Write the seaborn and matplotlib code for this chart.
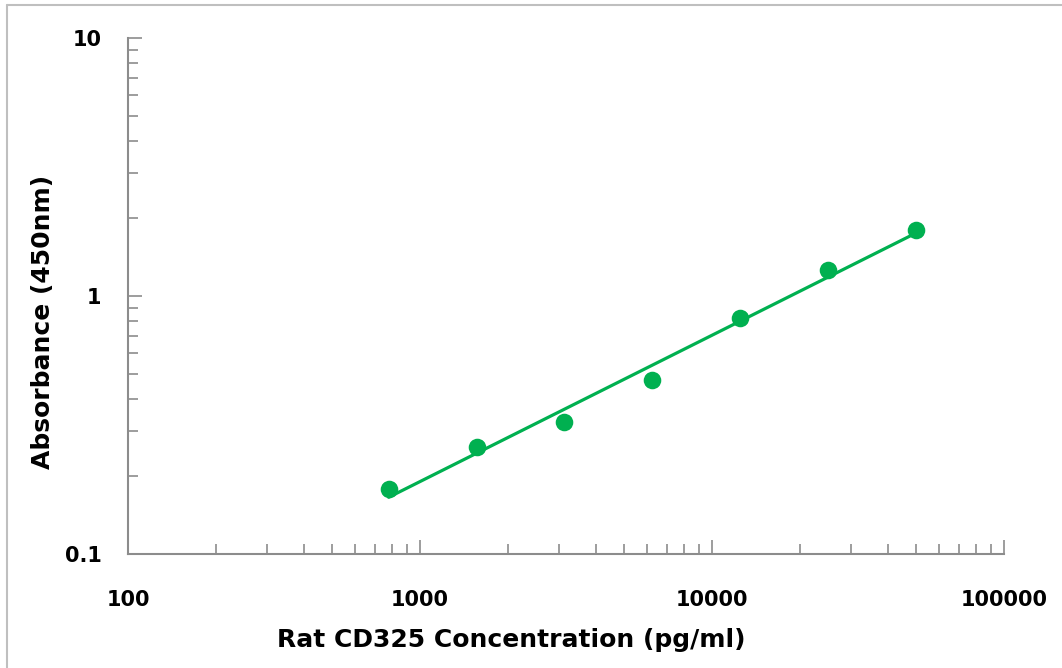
import matplotlib
matplotlib.use("Agg")
import matplotlib.pyplot as plt
import seaborn as sns
import numpy as np
import pandas as pd
from matplotlib.ticker import LogLocator, FixedLocator, NullFormatter
from matplotlib.lines import Line2D

# standard curve values
concentration = [781.25, 1562.5, 3125, 6250, 12500, 25000, 50000]
absorbance = [0.179, 0.26, 0.325, 0.472, 0.822, 1.26, 1.80]
x_ticks = [100, 1000, 10000, 100000]
x_tick_labels = ["100", "1000", "10000", "100000"]
y_ticks = [0.1, 1, 10]
y_tick_labels = ["0.1", "1", "10"]

green = "#00B050"
grey = "#8C8C8C"

sns.set_style("white")
plt.rcParams["font.family"] = ["DejaVu Sans"]

df = pd.DataFrame({"conc": concentration, "od": absorbance})

# power fit in log-log space (trend line)
slope, intercept = np.polyfit(np.log10(df["conc"]), np.log10(df["od"]), 1)
fit_x = np.logspace(np.log10(df["conc"].min()), np.log10(df["conc"].max()), 50)
fit = pd.DataFrame({"conc": fit_x, "od": 10 ** (intercept + slope * np.log10(fit_x))})

fig = plt.figure(figsize=(10.62, 6.68), dpi=100)
ax = fig.add_axes([0.1205, 0.1707, 0.8249, 0.7724])

sns.lineplot(data=fit, x="conc", y="od", ax=ax, color=green, linewidth=2.3)
sns.scatterplot(data=df, x="conc", y="od", ax=ax, color=green, s=160,
                edgecolor=green, linewidth=0, zorder=3)

ax.set_xscale("log")
ax.set_yscale("log")
ax.set_xlim(100, 100000)
ax.set_ylim(0.1, 10)

ax.xaxis.set_major_locator(FixedLocator(x_ticks))
ax.set_xticklabels(x_tick_labels)
ax.yaxis.set_major_locator(FixedLocator(y_ticks))
ax.set_yticklabels(y_tick_labels)
ax.xaxis.set_minor_locator(LogLocator(base=10, subs=np.arange(2, 10)))
ax.yaxis.set_minor_locator(LogLocator(base=10, subs=np.arange(2, 10)))
ax.xaxis.set_minor_formatter(NullFormatter())
ax.yaxis.set_minor_formatter(NullFormatter())

ax.tick_params(which="major", direction="in", length=10, width=1.2, color=grey,
               labelsize=15, labelcolor="black", bottom=True, left=True)
ax.tick_params(axis="y", which="major", pad=19)
ax.tick_params(axis="x", which="major", pad=26)
ax.tick_params(which="minor", direction="in", length=7, width=1.2, color=grey,
               bottom=True, left=True)
for lab in ax.get_xticklabels() + ax.get_yticklabels():
    lab.set_fontweight("bold")

for side in ["top", "right"]:
    ax.spines[side].set_visible(False)
for side in ["left", "bottom"]:
    ax.spines[side].set_color(grey)
    ax.spines[side].set_linewidth(1.5)

ax.set_xlabel("Rat CD325 Concentration (pg/ml)", fontsize=18, fontweight="bold",
              color="black", labelpad=13)
ax.set_ylabel("Absorbance (450nm)", fontsize=18, fontweight="bold",
              color="black", labelpad=7)
# the axis titles sit off-centre in the reference
ax.xaxis.label.set_x(0.438)
ax.yaxis.label.set_y(0.45)

# outer frame (left and top edges visible in the reference)
fig.add_artist(Line2D([0.0066, 0.0066], [0, 0.9925], transform=fig.transFigure,
                      color="#BFBFBF", linewidth=1.5))
fig.add_artist(Line2D([0.0066, 1], [0.9925, 0.9925], transform=fig.transFigure,
                      color="#BFBFBF", linewidth=1.5))

fig.savefig("out.png", dpi=100)
